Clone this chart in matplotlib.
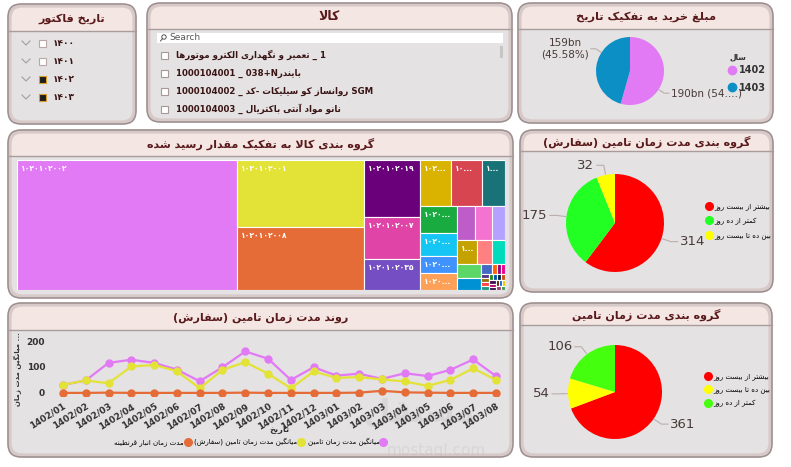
import re
import numpy as np
import matplotlib
matplotlib.use('Agg')
import matplotlib.pyplot as plt
from matplotlib.patches import FancyBboxPatch, Rectangle, Circle
from matplotlib.lines import Line2D

plt.rcParams['font.family'] = ['DejaVu Sans']

# ---------------- data ----------------
years = ['1400', '1401', '1402', '1403']
years_selected = [False, False, True, True]

kala_items = [
    'تعمیر و نگهداری الکترو موتورها _ 1',
    '1000104001 _ 038+Nبایندر',
    '1000104002 _ روانساز کو سیلیکات -کد SGM',
    '1000104003 _ نانو مواد آنتی باکتریال',
]

buy_years = ['1402', '1403']
buy_amounts = [190.2, 159.3]          # bn
buy_colors = ['#E279F5', '#0C8FC5']

order_groups = ['بیشتر از بیست روز', 'کمتر از ده روز', 'بین ده تا بیست روز']
order_counts = [314, 175, 32]
order_colors = ['#FF0000', '#22FF22', '#FFFF00']

supply_groups = ['بیشتر از بیست روز', 'بین ده تا بیست روز', 'کمتر از ده روز']
supply_counts = [361, 54, 106]
supply_colors = ['#FF0000', '#FFFF00', '#44FF0E']

tm_codes = ['1020102002', '1020102001', '1020102008', '1020102019', '1020102007',
            '1020102035', '1020102012', '1020102005', '1020102023', '1020102010',
            '1020102014', '1020102027', '1020102003', '1020102016', '1020102021',
            '1020102030', '1020102018', '1020102026', '1020102009', '1020102031',
            '1020102015', '1020102040', '1020102011', '1020102025', '1020102033',
            '1020102004', '1020102017', '1020102022', '1020102028', '1020102036',
            '1020102006', '1020102013', '1020102020', '1020102024', '1020102029',
            '1020102032', '1020102034', '1020102037', '1020102038', '1020102039',
            '1020102041']
tm_values = [28600, 8442, 7938, 3192, 2352, 1736, 1472, 1426, 1058, 999,
             851, 629, 629, 612, 578, 442, 480, 360, 312, 325,
             300, 100, 50, 42, 35, 34, 32, 30, 28, 27,
             26, 25, 24, 23, 22, 21, 20, 19, 18, 17, 16]
tm_colors = ['#E279F5', '#E3E337', '#E66C37', '#6B007B', '#E044A7', '#744EC2',
             '#D9B300', '#D64550', '#197278', '#1AAB40', '#15C6F4', '#4092FF',
             '#FFA058', '#BE5DC9', '#F472D0', '#B5A1FF', '#C4A200', '#FF8080',
             '#00DBBC', '#5BD667', '#0091D5', '#4668C5', '#FF6300', '#99008A',
             '#EC008C', '#533285', '#99700A', '#FF4141', '#1F9A85', '#25891C',
             '#0057A2', '#002050', '#C94F0F', '#450F54', '#B60064', '#34124F',
             '#6A1C06', '#0D6ABF', '#E8C600', '#A43B76', '#3B9A4F']

months = ['1402/01', '1402/02', '1402/03', '1402/04', '1402/05', '1402/06',
          '1402/07', '1402/08', '1402/09', '1402/10', '1402/11', '1402/12',
          '1403/01', '1403/02', '1403/03', '1403/04', '1403/05', '1403/06',
          '1403/07', '1403/08']
avg_supply = [31, 48, 116, 128, 116, 90, 45, 99, 160, 132,
              50, 99, 67, 74, 54, 76, 65, 89, 129, 65]
avg_order = [31, 48, 37, 102, 108, 84, 18, 89, 119, 74,
             18, 83, 58, 61, 52, 44, 27, 50, 95, 50]
quarantine = [0, 0, 1, 0, 0, 0, 0, 0, 1, 0,
              0, 0, 0, 1, 8, 2, 1, 0, 0, 0]
line_names = ['میانگین مدت زمان تامین', 'میانگین مدت زمان تامین (سفارش)',
              'مدت زمان انبار قرنطینه']
line_colors = ['#E279F5', '#E3E337', '#E66C37']

# ---------------- persian text helpers ----------------
DUAL = {'ب': 0xFE8F, 'ت': 0xFE95, 'ث': 0xFE99, 'ج': 0xFE9D, 'ح': 0xFEA1,
        'خ': 0xFEA5, 'س': 0xFEB1, 'ش': 0xFEB5, 'ص': 0xFEB9, 'ض': 0xFEBD,
        'ط': 0xFEC1, 'ظ': 0xFEC5, 'ع': 0xFEC9, 'غ': 0xFECD, 'ف': 0xFED1,
        'ق': 0xFED5, 'ل': 0xFEDD, 'م': 0xFEE1, 'ن': 0xFEE5, 'ه': 0xFEE9,
        'ئ': 0xFE89, 'پ': 0xFB56, 'چ': 0xFB7A, 'ک': 0xFB8E, 'گ': 0xFB92,
        'ی': 0xFBFC}
RIGHT = {'ا': 0xFE8D, 'آ': 0xFE81, 'د': 0xFEA9, 'ذ': 0xFEAB, 'ر': 0xFEAD,
         'ز': 0xFEAF, 'ژ': 0xFB8A, 'و': 0xFEED}
MIRROR = str.maketrans('()[]', ')(][')
LTR_RUN = r'([A-Za-z0-9\u06F0-\u06F9](?:[A-Za-z0-9\u06F0-\u06F9+./%]*[A-Za-z0-9\u06F0-\u06F9])?)'


def shape(s):
    out = []
    i = 0
    while i < len(s):
        c = s[i]
        if c not in DUAL and c not in RIGHT:
            out.append(c)
            i += 1
            continue
        p = i > 0 and s[i - 1] in DUAL
        if c == 'ل' and i + 1 < len(s) and s[i + 1] in 'اآ':
            base = 0xFEFB if s[i + 1] == 'ا' else 0xFEF5
            out.append(chr(base + (1 if p else 0)))
            i += 2
            continue
        nxt = s[i + 1] if i + 1 < len(s) else ''
        q = c in DUAL and (nxt in DUAL or nxt in RIGHT)
        form = 3 if (p and q) else 1 if p else 2 if q else 0
        out.append(chr((DUAL.get(c) or RIGHT[c]) + form))
        i += 1
    return ''.join(out)


def fa(s, rtl=True):
    parts = re.split(LTR_RUN, s)
    out = []
    for i, p in enumerate(parts):
        if i % 2:
            out.append(p)
        elif rtl:
            out.append(shape(p)[::-1].translate(MIRROR))
        else:
            m = re.match(r'^([^\u0600-\u06FF]*)(.*?)([^\u0600-\u06FF]*)$', p, re.S)
            out.append(m.group(1) + shape(m.group(2))[::-1].translate(MIRROR) + m.group(3))
    if rtl:
        out.reverse()
    return ''.join(out)


def pdig(s):
    return s.translate(str.maketrans('0123456789', '۰۱۲۳۴۵۶۷۸۹'))


def squarify(values, x0, y0, x1, y1, ratio=(1 + 5 ** 0.5) / 2):
    # d3 style squarified treemap
    rects = []
    total = float(sum(values))
    i0, n = 0, len(values)
    while i0 < n:
        dx, dy = x1 - x0, y1 - y0
        s = mn = mx = values[i0]
        i1 = i0 + 1
        alpha = max(dy / dx, dx / dy) / (total * ratio)
        beta = s * s * alpha
        best = max(mx / beta, beta / mn)
        while i1 < n:
            v = values[i1]
            beta = (s + v) ** 2 * alpha
            r = max(max(mx, v) / beta, beta / min(mn, v))
            if r > best:
                break
            s, best = s + v, r
            mn, mx = min(mn, v), max(mx, v)
            i1 += 1
        row = values[i0:i1]
        if dx < dy:
            h = dy * s / total
            xx = x0
            for v in row:
                w = dx * v / s
                rects.append((xx, y0, w, h))
                xx += w
            y0 += h
        else:
            w = dx * s / total
            yy = y0
            for v in row:
                h = dy * v / s
                rects.append((x0, yy, w, h))
                yy += h
            x0 += w
        total -= s
        i0 = i1
    return rects


# ---------------- figure ----------------
W, H = 791, 467
fig = plt.figure(figsize=(W / 100, H / 100), dpi=100)
fig.patch.set_facecolor('white')
bg = fig.add_axes([0, 0, 1, 1])
bg.set_xlim(0, W)
bg.set_ylim(H, 0)
bg.axis('off')

TITLE_C = '#5A1A1C'
TEXT_C = '#3A1414'


def px_axes(x0, y0, x1, y1):
    return fig.add_axes([x0 / W, 1 - y1 / H, (x1 - x0) / W, (y1 - y0) / H])


def panel(x0, y0, x1, y1, hb, title, size=8):
    box = dict(boxstyle='round,pad=0,rounding_size=13')
    bg.add_patch(FancyBboxPatch((x0, y0), x1 - x0, y1 - y0, fc='#E4E2E2', ec='none', **box))
    head = FancyBboxPatch((x0, y0), x1 - x0, y1 - y0, fc='#F4E6E2', ec='none', **box)
    bg.add_patch(head)
    clip = Rectangle((x0, y0), x1 - x0, hb - y0)
    clip.set_transform(bg.transData)
    head.set_clip_path(clip)
    bg.plot([x0, x1], [hb, hb], color='#A89C9C', lw=1)
    bg.add_patch(FancyBboxPatch((x0 + 1.5, y0 + 1.5), x1 - x0 - 3, y1 - y0 - 3, fc='none',
                                ec='#D8C9C9', lw=3, **box))
    bg.add_patch(FancyBboxPatch((x0, y0), x1 - x0, y1 - y0, fc='none', ec='#9C8E8E', lw=1.1, **box))
    bg.text((x0 + x1) / 2, (y0 + hb) / 2 + 1, fa(title), ha='center', va='center',
            fontsize=size, fontweight='bold', color=TITLE_C)


panel(8, 4, 136, 124, 31, 'تاریخ فاکتور', 8)
panel(147, 3, 512, 122, 29, 'کالا', 9)
panel(518, 3, 773, 123, 29, 'مبلغ خرید به تفکیک تاریخ', 8.2)
panel(8, 130, 513, 298, 156, 'گروه بندی کالا به تفکیک مقدار رسید شده', 8)
panel(520, 130, 773, 292, 151, 'گروه بندی مدت زمان تامین (سفارش)', 8)
panel(8, 303, 513, 457, 330, 'روند مدت زمان تامین (سفارش)', 8)
panel(520, 303, 772, 457, 325, 'گروه بندی مدت زمان تامین', 8)

# ---- date slicer
for i, (y, sel) in enumerate(zip(years, years_selected)):
    yy = 43 + i * 18
    bg.plot([22, 26, 30], [yy - 2, yy + 2, yy - 2], color='#A0A0A0', lw=0.8)
    bg.add_patch(Rectangle((39, yy - 3.5), 7, 7, fc='#1E1E1E' if sel else 'white',
                           ec='#D99A30' if sel else '#B8A8A8', lw=0.8))
    bg.text(53, yy, pdig(y), fontsize=6.5, color=TEXT_C, va='center', fontweight='bold')

# ---- kala slicer
bg.add_patch(Rectangle((157, 33), 346, 10, fc='white', ec='none'))
bg.add_patch(Circle((164, 37), 2.2, fc='none', ec='#555555', lw=0.7))
bg.plot([162.5, 160.5], [38.6, 41], color='#555555', lw=0.7)
bg.text(169, 38, 'Search', fontsize=6.5, color='#555555', va='center')
bg.add_patch(Rectangle((500, 46), 3, 12, fc='#C8C4C4', ec='none'))
for i, item in enumerate(kala_items):
    yy = 55 + i * 18
    bg.add_patch(Rectangle((161, yy - 3.5), 7, 7, fc='white', ec='#A89898', lw=0.8))
    bg.text(176, yy, fa(item, rtl=False), fontsize=6.2, color=TEXT_C, va='center',
            fontweight='bold')

# ---- pie helpers
def pie_labels(ax, wedges, texts, size, r_out=1.2, dx=0.14, shift=0):
    for w, t in zip(wedges, texts):
        a = np.deg2rad((w.theta1 + w.theta2) / 2 - shift)
        c, s = np.cos(a), np.sin(a)
        sg = 1 if c >= 0 else -1
        p2 = (r_out * c, r_out * s)
        p3 = (p2[0] + sg * dx, p2[1])
        ax.plot([1.02 * c, p2[0], p3[0]], [1.02 * s, p2[1], p3[1]], color='#BBAEAE',
                lw=0.8, clip_on=False)
        ax.text(p3[0] + sg * 0.05, p3[1], t, ha='left' if sg > 0 else 'right', va='center',
                fontsize=size, color='#4A3A3A', multialignment='center', clip_on=False)


def draw_pie(rect, values, colors):
    ax = px_axes(*rect)
    wedges, _ = ax.pie(values, colors=colors, startangle=90, counterclock=False,
                       wedgeprops=dict(linewidth=0))
    ax.set_xlim(-1, 1)
    ax.set_ylim(-1, 1)
    ax.set_aspect('equal')
    ax.axis('off')
    return ax, wedges


def legend_at(ax, labels, colors, x, y, size, ms=6, **kw):
    handles = [Line2D([], [], ls='', marker='o', ms=ms, color=c) for c in colors]
    return ax.legend(handles, labels, loc='upper left', bbox_to_anchor=(x / W, 1 - y / H),
                     bbox_transform=fig.transFigure, frameon=False, fontsize=size,
                     handlelength=0.7, handletextpad=0.3, borderpad=0, borderaxespad=0, **kw)


# pie 1: purchase amount by year
ax1, w1 = draw_pie((596, 37, 664, 105), buy_amounts, buy_colors)
pct = [100 * v / sum(buy_amounts) for v in buy_amounts]
lab1 = ['%.0fbn (%.2f%%)' % (buy_amounts[0], pct[0]),
        '%.0fbn\n(%.2f%%)' % (buy_amounts[1], pct[1])]
lab1[0] = lab1[0][:9] + '....)'
pie_labels(ax1, w1, lab1, 7.5, shift=25)
bg.text(730, 57, fa('سال'), fontsize=5.5, fontweight='bold', color='#333333', va='center')
leg = legend_at(ax1, buy_years, buy_colors, 729, 65, 7, labelspacing=0.8)
for t in leg.get_texts():
    t.set_fontweight('bold')
    t.set_color('#333333')

# pie 2: order lead-time groups
ax2, w2 = draw_pie((566, 174, 664, 272), order_counts, order_colors)
pie_labels(ax2, w2, [str(v) for v in order_counts], 9.5)
legend_at(ax2, [fa(g) for g in order_groups], order_colors, 707, 203, 5, ms=5.5,
          labelspacing=1.1)

# pie 3: supply lead-time groups
ax3, w3 = draw_pie((568, 345, 662, 439), supply_counts, supply_colors)
pie_labels(ax3, w3, [str(v) for v in supply_counts], 9.5)
legend_at(ax3, [fa(g) for g in supply_groups], supply_colors, 706, 373, 5, ms=5.5,
          labelspacing=0.95)

# ---- treemap
tm = px_axes(17, 160, 505, 290)
TW, TH = 488.0, 130.0
tm.set_xlim(0, TW)
tm.set_ylim(TH, 0)
tm.axis('off')
for (x, y, w, h), code, col in zip(squarify(tm_values, 0, 0, TW, TH), tm_codes, tm_colors):
    tm.add_patch(Rectangle((x, y), w, h, fc=col, ec='white', lw=0.8))
    if w >= 19 and h >= 15:
        n = int((w - 18) / 4.3)
        lab = code if w >= 50 else code[:max(n, 1)] + '...'
        tm.text(x + 4, y + 4, pdig(lab), color='white', fontsize=5.5, fontweight='bold',
                ha='left', va='top')

# ---- line chart
ax = px_axes(52, 338, 506, 396)
xs = np.arange(len(months))
for vals, col, z in zip([avg_supply, avg_order, quarantine], line_colors, [3, 4, 5]):
    ax.plot(xs, vals, '-o', color=col, lw=1.6, ms=5, zorder=z)
ax.set_xlim(-0.48, 19.44)
ax.set_ylim(-12, 212)
ax.set_yticks([0, 100, 200])
ax.set_xticks(xs)
ax.set_xticklabels(months, rotation=32, ha='right', rotation_mode='anchor')
ax.tick_params(length=0, labelsize=6.5, labelcolor='#333333', pad=4)
ax.tick_params(axis='y', pad=5, labelsize=6.5)
for t in ax.get_xticklabels() + ax.get_yticklabels():
    t.set_fontweight('bold')
ax.patch.set_alpha(0)
for sp in ax.spines.values():
    sp.set_visible(False)
ax.set_xlabel(fa('تاریخ'), fontsize=6, fontweight='bold', color='#333333')
ax.xaxis.set_label_coords(0.5, -0.5)
ax.set_ylabel(fa('میانگین مدت زمان') + ' ...', fontsize=5, fontweight='bold',
              color='#333333')
ax.yaxis.set_label_coords(-0.065, 0.47)
handles = [Line2D([], [], ls='', marker='o', ms=5.5, color=c) for c in line_colors]
ax.legend(handles[::-1], [fa(n) for n in line_names][::-1], loc='center',
          bbox_to_anchor=(250 / W, 1 - 442 / H), bbox_transform=fig.transFigure,
          ncol=3, frameon=False, fontsize=5, markerfirst=False, handlelength=0.7,
          handletextpad=0.2, columnspacing=0.6, borderpad=0)

# watermark
bg.text(420, 412, fa('مستقل'), fontsize=22, color='#9A9A9A', alpha=0.16,
        ha='center', va='center', fontweight='bold')
bg.text(436, 450, 'mostaql.com', fontsize=11, color='#9A9A9A', alpha=0.16,
        ha='center', va='center')

fig.savefig('out.png', dpi=100)
